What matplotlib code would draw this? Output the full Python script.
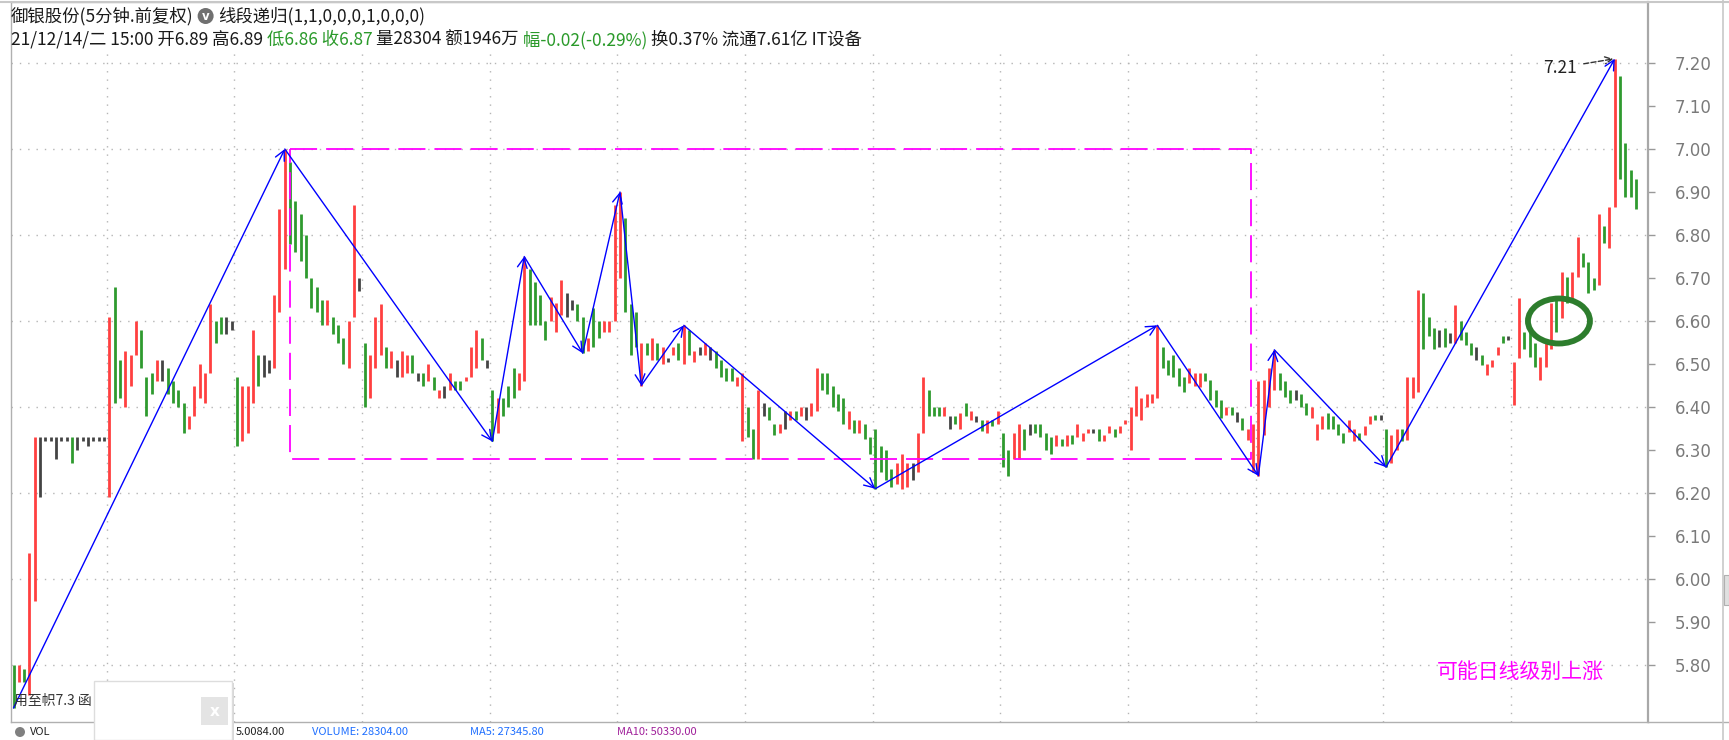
import numpy as np
import matplotlib
matplotlib.use("Agg")
import matplotlib.pyplot as plt
from matplotlib.patches import Rectangle, Ellipse, Circle
from matplotlib.lines import Line2D
from matplotlib.transforms import IdentityTransform

W, H = 1729, 740
CJK = ["Noto Sans CJK SC", "DejaVu Sans"]
plt.rcParams["font.family"] = CJK

first_day_bars = 18
bars_per_day = 24

low = [
    5.70, 5.76, 5.76, 5.73, 5.95, 6.19, 6.32, 6.32, 6.28, 6.32, 6.32, 6.27, 6.30, 6.32, 6.31, 6.32, 6.32, 6.32,
    6.19, 6.41, 6.42, 6.40, 6.45, 6.52, 6.49, 6.38, 6.43, 6.46, 6.46, 6.43, 6.41, 6.40, 6.34, 6.35, 6.38, 6.42, 6.41, 6.48, 6.55, 6.57, 6.57, 6.58,
    6.31, 6.32, 6.34, 6.41, 6.45, 6.47, 6.48, 6.49, 6.62, 6.72, 6.78, 6.76, 6.74, 6.70, 6.63, 6.62, 6.59, 6.59, 6.57, 6.55, 6.50, 6.49, 6.61, 6.67,
    6.40, 6.42, 6.49, 6.52, 6.49, 6.49, 6.47, 6.47, 6.48, 6.48, 6.46, 6.45, 6.46, 6.44, 6.42, 6.42, 6.44, 6.44, 6.44, 6.46, 6.47, 6.49, 6.51, 6.49,
    6.32, 6.34, 6.38, 6.40, 6.42, 6.44, 6.46, 6.59, 6.59, 6.59, 6.556, 6.60, 6.575, 6.614, 6.61, 6.625, 6.60, 6.525, 6.53, 6.54, 6.56, 6.575, 6.575, 6.60,
    6.70, 6.62, 6.52, 6.54, 6.45, 6.52, 6.51, 6.51, 6.50, 6.505, 6.52, 6.51, 6.50, 6.52, 6.505, 6.52, 6.52, 6.51, 6.49, 6.47, 6.46, 6.46, 6.45, 6.32,
    6.33, 6.28, 6.28, 6.38, 6.37, 6.335, 6.34, 6.35, 6.37, 6.37, 6.38, 6.37, 6.38, 6.39, 6.44, 6.43, 6.40, 6.39, 6.36, 6.35, 6.34, 6.34, 6.325, 6.29,
    6.21, 6.25, 6.23, 6.215, 6.22, 6.21, 6.215, 6.23, 6.25, 6.34, 6.38, 6.38, 6.38, 6.38, 6.35, 6.36, 6.35, 6.38, 6.37, 6.365, 6.345, 6.34, 6.355, 6.36,
    6.26, 6.24, 6.28, 6.28, 6.30, 6.335, 6.34, 6.33, 6.30, 6.29, 6.31, 6.31, 6.31, 6.315, 6.33, 6.32, 6.34, 6.34, 6.32, 6.32, 6.34, 6.33, 6.34, 6.36,
    6.30, 6.38, 6.37, 6.40, 6.41, 6.42, 6.49, 6.475, 6.47, 6.45, 6.436, 6.455, 6.45, 6.447, 6.46, 6.417, 6.40, 6.374, 6.382, 6.382, 6.366, 6.347, 6.323, 6.25,
    6.24, 6.335, 6.40, 6.44, 6.44, 6.424, 6.41, 6.416, 6.40, 6.382, 6.374, 6.323, 6.35, 6.35, 6.35, 6.335, 6.316, 6.343, 6.32, 6.323, 6.335, 6.36, 6.37, 6.37,
    6.26, 6.27, 6.30, 6.32, 6.323, 6.42, 6.436, 6.536, 6.564, 6.536, 6.54, 6.54, 6.548, 6.548, 6.556, 6.544, 6.52, 6.51, 6.498, 6.475, 6.494, 6.52, 6.548, 6.556,
    6.405, 6.513, 6.536, 6.517, 6.494, 6.463, 6.494, 6.536, 6.575, 6.606, 6.641, 6.649, 6.703, 6.726, 6.664, 6.672, 6.684, 6.781, 6.769, 6.866, 6.93, 6.889, 6.889, 6.86,
]
high = [
    5.80, 5.80, 5.79, 6.06, 6.33, 6.33, 6.33, 6.33, 6.33, 6.33, 6.33, 6.33, 6.33, 6.33, 6.33, 6.33, 6.33, 6.33,
    6.61, 6.68, 6.51, 6.53, 6.52, 6.60, 6.58, 6.47, 6.48, 6.51, 6.51, 6.49, 6.46, 6.44, 6.41, 6.38, 6.45, 6.50, 6.48, 6.64, 6.60, 6.61, 6.61, 6.60,
    6.47, 6.45, 6.45, 6.58, 6.52, 6.52, 6.51, 6.66, 6.86, 7.00, 6.97, 6.88, 6.85, 6.80, 6.70, 6.68, 6.65, 6.65, 6.61, 6.59, 6.56, 6.60, 6.87, 6.70,
    6.55, 6.52, 6.61, 6.64, 6.54, 6.53, 6.51, 6.53, 6.52, 6.52, 6.48, 6.48, 6.50, 6.47, 6.44, 6.45, 6.48, 6.46, 6.46, 6.47, 6.54, 6.58, 6.56, 6.51,
    6.44, 6.42, 6.42, 6.45, 6.49, 6.48, 6.75, 6.72, 6.69, 6.66, 6.60, 6.656, 6.641, 6.695, 6.664, 6.65, 6.64, 6.61, 6.56, 6.63, 6.60, 6.60, 6.60, 6.87,
    6.90, 6.84, 6.64, 6.62, 6.55, 6.55, 6.56, 6.55, 6.54, 6.515, 6.54, 6.55, 6.59, 6.58, 6.53, 6.54, 6.55, 6.54, 6.53, 6.51, 6.49, 6.49, 6.47, 6.48,
    6.40, 6.35, 6.44, 6.41, 6.40, 6.36, 6.36, 6.39, 6.39, 6.39, 6.40, 6.40, 6.41, 6.49, 6.48, 6.48, 6.45, 6.43, 6.42, 6.39, 6.37, 6.37, 6.36, 6.33,
    6.35, 6.31, 6.30, 6.255, 6.27, 6.29, 6.27, 6.27, 6.34, 6.47, 6.44, 6.40, 6.40, 6.40, 6.38, 6.38, 6.385, 6.41, 6.39, 6.38, 6.37, 6.37, 6.37, 6.39,
    6.34, 6.30, 6.34, 6.36, 6.35, 6.36, 6.36, 6.36, 6.34, 6.33, 6.335, 6.325, 6.335, 6.335, 6.36, 6.34, 6.35, 6.35, 6.35, 6.335, 6.355, 6.35, 6.355, 6.37,
    6.40, 6.45, 6.42, 6.43, 6.43, 6.59, 6.54, 6.51, 6.52, 6.49, 6.47, 6.49, 6.48, 6.48, 6.48, 6.463, 6.44, 6.416, 6.40, 6.40, 6.389, 6.374, 6.35, 6.36,
    6.46, 6.463, 6.49, 6.533, 6.48, 6.46, 6.44, 6.44, 6.43, 6.41, 6.40, 6.36, 6.38, 6.385, 6.38, 6.36, 6.339, 6.37, 6.35, 6.339, 6.355, 6.38, 6.382, 6.382,
    6.35, 6.335, 6.35, 6.35, 6.47, 6.47, 6.672, 6.664, 6.61, 6.583, 6.58, 6.583, 6.571, 6.637, 6.60, 6.575, 6.55, 6.54, 6.52, 6.50, 6.51, 6.54, 6.564, 6.564,
    6.505, 6.653, 6.575, 6.575, 6.548, 6.517, 6.556, 6.641, 6.649, 6.715, 6.703, 6.715, 6.796, 6.757, 6.738, 6.699, 6.85, 6.82, 6.866, 7.21, 7.17, 7.013, 6.951, 6.93,
]
# u = close above open (red), d = below (green), f = flat (black)
kind_by_day = [
    "duduu ffffff d ffffff",
    "udduuu dddufd ddduuu uuddff",
    "duuudf fuuudd dddddu ddduuf",
    "duuudu fuudfd udufud duuudf",
    "dudddu uddddu uuffdd udduuu",
    "udddud udufud udufuf dddduu",
    "ddufdd ufuduf uudddd dududd",
    "dddduu ufuudd dufdud ufdudu",
    "dduudf ddddud uduuuf duuduu",
    "uuuuuu dddddu uudddd udfduu",
    "uuuudd dfdduu uddddu uduudf",
    "duuduu udddfd fudddf duuudf",
    "uudddu uududu udddud uudddd",
]
kind = "".join(kind_by_day).replace(" ", "")

# 线段 pivots (bar index), alternating low / high
pivot_bars = [0, 51, 90, 96, 107, 114, 118, 126, 162, 215, 234, 237, 258, 301]
# 中枢 box: first bar, last bar, ZD, ZG
box_bars = [52, 232.7]
box_prices = [6.28, 7.00]
mark_bar, mark_price = 290.5, 6.60
note_text = "可能日线级别上涨"
header1 = "御银股份(5分钟.前复权)"
header1b = "线段递归(1,1,0,0,0,1,0,0,0)"
ticks = np.round(np.arange(5.8, 7.21, 0.1), 2)

n = len(low)
x = np.arange(n)
lo = np.array(low)
hi = np.array(high)
col_map = {"u": "#ff4040", "d": "#2f9a2f", "f": "#444444"}
cols = [col_map[k] for k in kind[:n]]

fig = plt.figure(figsize=(W / 100, H / 100), dpi=100)
fig.patch.set_facecolor("white")
ax = fig.add_axes([11 / W, (H - 722) / H, (1648 - 11) / W, 720 / H])

# price scale: 7.20 at y=63px, 43px per 0.1
ppx = 430.0
ax.set_ylim(7.20 - (722 - 63) / ppx, 7.20 + (63 - 2) / ppx)
ax.set_xlim(-0.47, 307.24)

# grid
day_lines = [first_day_bars - 0.5 + bars_per_day * k for k in range(12)]
ax.vlines(day_lines, ax.get_ylim()[0], 7.235, colors="#b5b5b5", lw=1.0,
          linestyles=(0, (1, 5)), zorder=1)
ax.hlines(ticks[::2], -0.47, 307.24, colors="#b5b5b5", lw=1.0,
          linestyles=(0, (1, 5)), zorder=1)

# bars
ax.vlines(x, lo, hi, colors=cols, lw=2.0, zorder=3)

# center box
ax.plot([box_bars[0], box_bars[1], box_bars[1], box_bars[0], box_bars[0]],
        [box_prices[1], box_prices[1], box_prices[0], box_prices[0], box_prices[1]],
        color="#ff00ff", lw=1.3, ls=(0, (15, 5)), zorder=4)

# segments
pv = []
for j, b in enumerate(pivot_bars):
    pv.append((b, lo[b] if j % 2 == 0 else hi[b]))
for (x0, y0), (x1, y1) in zip(pv[:-1], pv[1:]):
    ax.annotate("", xy=(x1, y1), xytext=(x0, y0), zorder=5,
                arrowprops=dict(arrowstyle="->,head_length=0.7,head_width=0.35",
                                color="#0000ff", lw=1.0, shrinkA=0, shrinkB=0))

# top label
top = int(np.argmax(hi))
ax.annotate("%.2f" % hi[top], xy=(top, hi[top]), xytext=(-38, -9),
            textcoords="offset pixels", ha="right", va="center", fontsize=12.5,
            color="#222222",
            arrowprops=dict(arrowstyle="->", ls="--", color="#333333", lw=1.0,
                            shrinkA=3, shrinkB=1))

ax.add_patch(Ellipse((mark_bar, mark_price), 62 / 5.32, 45 / ppx, fill=False,
                     ec="#2d7d2d", lw=4.2, zorder=6))
ax.text(283.2, 7.20 - (672 - 63) / ppx, note_text, color="#ff00ff",
        fontsize=15, ha="center", va="center", zorder=6)

# axes look
for s in ["left", "top", "bottom"]:
    ax.spines[s].set_color("#b0b0b0")
    ax.spines[s].set_linewidth(1.0)
ax.spines["right"].set_color("#a8a8a8")
ax.spines["right"].set_linewidth(1.6)
ax.set_xticks([])
ax.yaxis.tick_right()
ax.set_yticks(ticks)
ax.set_yticklabels(["%.2f" % t for t in ticks], family="DejaVu Sans")
ax.tick_params(axis="y", direction="out", length=5, width=1, colors="#999999",
               labelcolor="#7a7a7a", labelsize=12, pad=14)

idt = IdentityTransform()


def ftext(px, py, s, **kw):
    return fig.text(px, H - py, s, transform=idt, **kw)


def row(parts, px, py, size):
    r = fig.canvas.get_renderer()
    for s, c in parts:
        t = ftext(px, py, s, color=c, fontsize=size, va="center", ha="left")
        px += t.get_window_extent(r).width
    return px


# header
xe = row([(header1, "#1a1a1a")], 11, 16, 12.5)
fig.add_artist(Circle((xe + 12, H - 16), 8, transform=idt, fc="#707070", ec="none"))
ftext(xe + 12, 17, "v", color="white", fontsize=8.5, ha="center", va="center",
      family="DejaVu Sans", weight="bold")
row([(header1b, "#1a1a1a")], xe + 25, 16, 12.5)

g = "#2a9a2a"
k = "#1a1a1a"
row([("21/12/14/二 15:00 开6.89 高6.89 ", k), ("低6.86 收6.87 ", g),
     ("量28304 额1946万 ", k), ("幅-0.02(-0.29%) ", g),
     ("换0.37% 流通7.61亿 IT设备", k)], 11, 40, 12.5)

# frame pieces outside the axes
fig.add_artist(Line2D([0, W], [H - 1.5, H - 1.5], transform=idt, color="#c8c8c8", lw=1.5))
fig.add_artist(Line2D([1648, W], [H - 722, H - 722], transform=idt, color="#b0b0b0", lw=1))
fig.add_artist(Line2D([1723, 1723], [0, H], transform=idt, color="#c8c8c8", lw=1.2))
fig.add_artist(Rectangle((1724, H - 605), 5, 30, transform=idt, fc="#e0e0e0", ec="#b0b0b0", lw=0.8))

# bottom indicator strip
by = 732
ftext(30, by, "VOL", color="#222222", fontsize=8, va="center")
fig.add_artist(Circle((20, H - by), 5, transform=idt, fc="#808080", ec="none"))
ftext(236, by, "5.0084.00", color="#222222", fontsize=8, va="center")
ftext(312, by, "VOLUME: 28304.00", color="#1e6fff", fontsize=8, va="center")
ftext(470, by, "MA5: 27345.80", color="#1e6fff", fontsize=8, va="center")
ftext(617, by, "MA10: 50330.00", color="#a0209a", fontsize=8, va="center")

ftext(14, 701, "用至帜7.3 函", color="#333333", fontsize=10, va="center")

# popup box
fig.add_artist(Rectangle((96, -2), 138, H - 681, transform=idt, fc="#d8d8d8", ec="none", zorder=9))
fig.add_artist(Rectangle((94, 0), 138, H - 681, transform=idt, fc="white", ec="#dddddd", lw=1, zorder=10))
fig.add_artist(Rectangle((201, H - 725), 27, 28, transform=idt, fc="#e4e4e4", ec="none", zorder=11))
ftext(214.5, 711, "x", color="white", fontsize=11, ha="center", va="center",
      family="DejaVu Sans", weight="bold", zorder=12)

fig.savefig("out.png", dpi=100, facecolor="white")
